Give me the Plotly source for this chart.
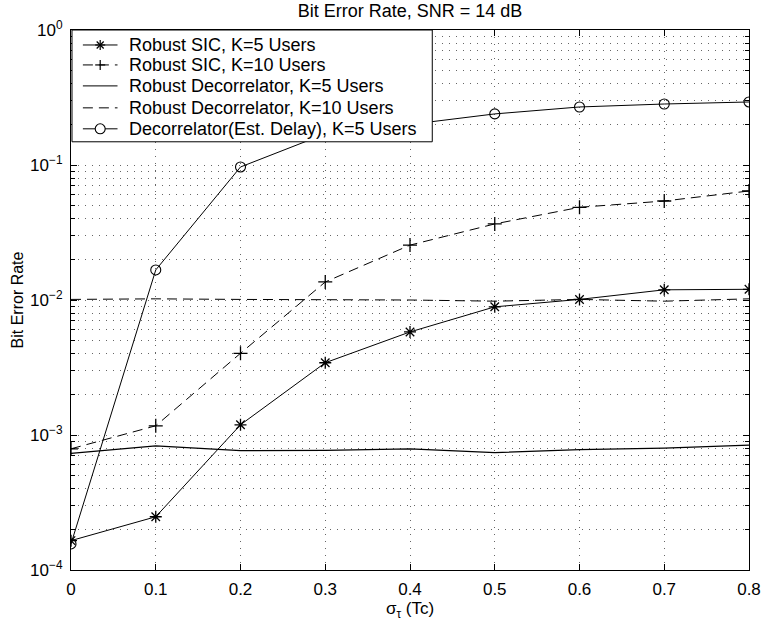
import plotly.graph_objects as go

sigma = [0, 0.1, 0.2, 0.3, 0.4, 0.5, 0.6, 0.7, 0.8]

sic_k5 = [1.65e-4, 2.48e-4, 1.19e-3, 3.43e-3, 5.8e-3, 8.9e-3, 1.01e-2, 1.19e-2, 1.2e-2]
sic_k10 = [7.9e-4, 1.17e-3, 4.03e-3, 1.36e-2, 2.55e-2, 3.66e-2, 4.86e-2, 5.41e-2, 6.42e-2]
dec_k5 = [7.3e-4, 8.3e-4, 7.65e-4, 7.7e-4, 7.9e-4, 7.4e-4, 7.8e-4, 8.0e-4, 8.4e-4]
dec_k10 = [1.01e-2, 1.02e-2, 1.01e-2, 1.01e-2, 1.0e-2, 0.98e-2, 1.01e-2, 0.98e-2, 1.02e-2]
dec_est_k5 = [1.56e-4, 1.67e-2, 9.67e-2, 0.17, 0.2, 0.239, 0.269, 0.283, 0.293]

names = [
    "Robust SIC, K=5 Users",
    "Robust SIC, K=10 Users",
    "Robust Decorrelator, K=5 Users",
    "Robust Decorrelator, K=10 Users",
    "Decorrelator(Est. Delay), K=5 Users",
]
legend_markers = ["asterisk", "plus", None, None, "circle"]
legend_dashes = ["solid", "10px,6px", "solid", "10px,6px", "solid"]

ytickvals = [1e-4, 1e-3, 1e-2, 1e-1, 1]
yticktext = ["10<sup>−4</sup>", "10<sup>−3</sup>", "10<sup>−2</sup>", "10<sup>−1</sup>", "10<sup>0</sup>"]
xtickvals = [0, 0.1, 0.2, 0.3, 0.4, 0.5, 0.6, 0.7, 0.8]
xticktext = ["0", "0.1", "0.2", "0.3", "0.4", "0.5", "0.6", "0.7", "0.8"]

fig = go.Figure()
fig.add_trace(go.Scatter(x=sigma, y=sic_k5, name=names[0], mode="lines+markers",
                         line=dict(color="black", width=1),
                         marker=dict(symbol="asterisk-open", size=10, color="black",
                                     line=dict(width=1.3, color="black"))))
fig.add_trace(go.Scatter(x=sigma, y=sic_k10, name=names[1], mode="lines+markers",
                         line=dict(color="black", width=1, dash="10px,6px"),
                         marker=dict(symbol="cross-thin-open", size=10, color="black",
                                     line=dict(width=1.3, color="black"))))
fig.add_trace(go.Scatter(x=sigma, y=dec_k5, name=names[2], mode="lines",
                         line=dict(color="black", width=1.2)))
fig.add_trace(go.Scatter(x=sigma, y=dec_k10, name=names[3], mode="lines",
                         line=dict(color="black", width=1, dash="10px,6px")))
fig.add_trace(go.Scatter(x=sigma, y=dec_est_k5, name=names[4], mode="lines+markers",
                         line=dict(color="black", width=1),
                         marker=dict(symbol="circle-open", size=10, color="black",
                                     line=dict(width=1.1, color="black"))))

# ---- manual legend (box drawn above the data, like MATLAB) ----
W_PLOT, H_PLOT = 685.0, 541.0
def px_x(p):  # pixel offset from plot left -> paper
    return p / W_PLOT
def px_y(p):  # pixel offset from plot top -> paper
    return 1 - p / H_PLOT

shapes = []
annotations = []
shapes.append(dict(type="rect", xref="paper", yref="paper", layer="above",
                   x0=px_x(1), x1=px_x(365), y0=px_y(112), y1=px_y(0),
                   fillcolor="white", line=dict(color="black", width=1)))
row_offsets = [15, 35, 56, 78, 99]
for name, mk, dash, ro in zip(names, legend_markers, legend_dashes, row_offsets):
    yc = px_y(ro)
    shapes.append(dict(type="line", xref="paper", yref="paper", layer="above",
                       x0=px_x(12), x1=px_x(47), y0=yc, y1=yc,
                       line=dict(color="black", width=1, dash=dash)))
    xc = px_x(29.5)
    if mk == "circle":
        shapes.append(dict(type="circle", xref="paper", yref="paper", layer="above",
                           xsizemode="pixel", ysizemode="pixel", xanchor=xc, yanchor=yc,
                           x0=-5, x1=5, y0=-5, y1=5, fillcolor="white",
                           line=dict(color="black", width=1.1)))
    elif mk == "plus":
        for (a0, a1, b0, b1) in [(-5, 5, 0, 0), (0, 0, -5, 5)]:
            shapes.append(dict(type="line", xref="paper", yref="paper", layer="above",
                               xsizemode="pixel", ysizemode="pixel", xanchor=xc, yanchor=yc,
                               x0=a0, x1=a1, y0=b0, y1=b1,
                               line=dict(color="black", width=1.2)))
    elif mk == "asterisk":
        for (a0, a1, b0, b1) in [(-5, 5, 0, 0), (0, 0, -5, 5), (-3.5, 3.5, -3.5, 3.5), (-3.5, 3.5, 3.5, -3.5)]:
            shapes.append(dict(type="line", xref="paper", yref="paper", layer="above",
                               xsizemode="pixel", ysizemode="pixel", xanchor=xc, yanchor=yc,
                               x0=a0, x1=a1, y0=b0, y1=b1,
                               line=dict(color="black", width=1.2)))
    annotations.append(dict(text=name, xref="paper", yref="paper", x=px_x(57), y=yc,
                            xanchor="left", yanchor="middle", showarrow=False,
                            font=dict(size=18, color="black")))

grid_dash = "1px,6px"
fig.update_layout(
    width=773, height=623,
    margin=dict(l=71, r=17, t=30, b=52),
    paper_bgcolor="white", plot_bgcolor="white",
    font=dict(family="Liberation Sans, Arial, sans-serif", size=17, color="black"),
    title=dict(text="Bit Error Rate, SNR = 14 dB", x=0.5, xref="paper", xanchor="center",
               y=1 - 11 / 623, yanchor="middle", font=dict(size=18)),
    showlegend=False,
    shapes=shapes,
    annotations=annotations,
)
fig.update_xaxes(
    range=[0, 0.8], tickvals=xtickvals, ticktext=xticktext,
    showline=True, linecolor="black", linewidth=1, mirror="ticks",
    ticks="inside", ticklen=6, tickcolor="black", ticklabelstandoff=4,
    showgrid=True, gridcolor="#666", gridwidth=1, griddash=grid_dash,
    zeroline=False, tickfont=dict(size=17),
    title=dict(text="σ<sub>τ</sub> (Tc)", font=dict(size=17), standoff=0),
)
fig.update_yaxes(
    type="log", range=[-4, 0], tickvals=ytickvals, ticktext=yticktext,
    showline=True, linecolor="black", linewidth=1, mirror="ticks",
    ticks="inside", ticklen=6, tickcolor="black", ticklabelstandoff=4,
    showgrid=True, gridcolor="#666", gridwidth=1, griddash=grid_dash,
    zeroline=False, tickfont=dict(size=17),
    minor=dict(dtick="D1", ticks="inside", ticklen=4, tickcolor="black",
               showgrid=True, gridcolor="#666", gridwidth=1, griddash=grid_dash),
    title=dict(text="Bit Error Rate", font=dict(size=16), standoff=2),
)

fig.write_html("out.html")
